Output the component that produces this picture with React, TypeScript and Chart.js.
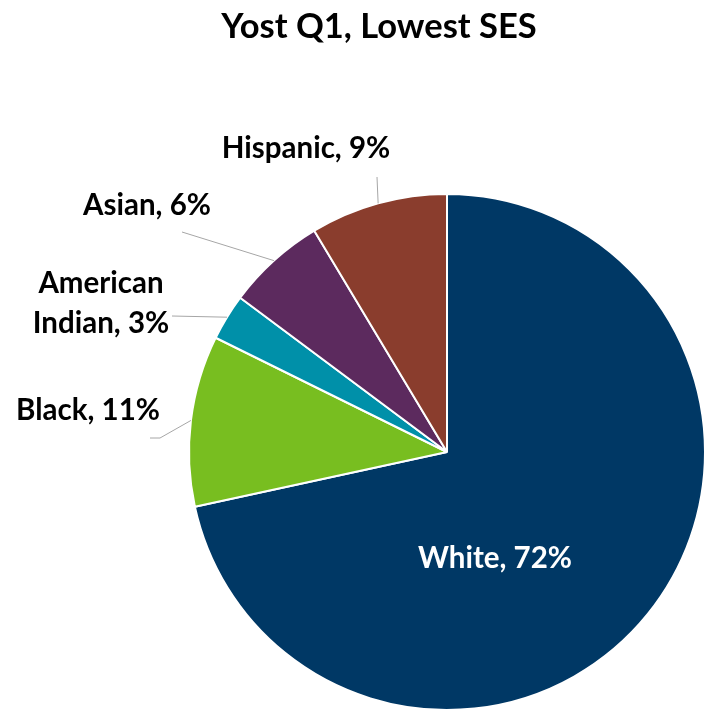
import React, { useEffect, useRef } from "react";
import { Chart, registerables } from "chart.js";

Chart.register(...registerables);

const title = "Yost Q1, Lowest SES";
const categories = ["White", "Black", "American Indian", "Asian", "Hispanic"];
const values = [71.6, 10.7, 2.9, 6.2, 8.6];
const colors = ["#003865", "#78be20", "#0090a9", "#5c2a5e", "#8a3d2d"];

// label placement relative to pie centre (in px), lines = leader elbows
const labelLayout = [
  { lines: ["White, 72%"], text: [48, 106], leader: null as null | number[][], inside: true },
  { lines: ["Black, 11%"], text: [-359, -42], leader: [[-287, -14], [-297, -14]], inside: false },
  { lines: ["American", "Indian, 3%"], text: [-346, -149], leader: [[-275, -136]], inside: false },
  { lines: ["Asian, 6%"], text: [-300, -247], leader: [[-265, -220]], inside: false },
  { lines: ["Hispanic, 9%"], text: [-141, -304], leader: [[-70, -275]], inside: false },
];

const FONT = "Lato, 'Open Sans', sans-serif";

const labelPlugin = {
  id: "customLabels",
  afterDatasetsDraw(chart: any) {
    const ctx = chart.ctx as CanvasRenderingContext2D;
    const meta = chart.getDatasetMeta(0);
    ctx.save();
    // title
    ctx.fillStyle = "#000";
    ctx.font = `bold 34.5px ${FONT}`;
    ctx.textAlign = "center";
    ctx.textBaseline = "alphabetic";
    ctx.fillText(title, 379, 38);

    meta.data.forEach((arc: any, i: number) => {
      const { x, y, startAngle, endAngle, outerRadius } = arc.getProps(
        ["x", "y", "startAngle", "endAngle", "outerRadius"],
        true
      );
      const L = labelLayout[i];
      const mid = (startAngle + endAngle) / 2;
      if (L.leader) {
        ctx.strokeStyle = "#a6a6a6";
        ctx.lineWidth = 1;
        ctx.beginPath();
        ctx.moveTo(x + Math.cos(mid) * outerRadius, y + Math.sin(mid) * outerRadius);
        L.leader.forEach((p) => ctx.lineTo(x + p[0], y + p[1]));
        ctx.stroke();
      }
      ctx.fillStyle = L.inside ? "#fff" : "#000";
      ctx.font = `bold 29.5px ${FONT}`;
      ctx.textAlign = "center";
      ctx.textBaseline = "middle";
      const lh = 40;
      const n = L.lines.length;
      L.lines.forEach((t, k) => {
        ctx.fillText(t, x + L.text[0], y + L.text[1] + (k - (n - 1) / 2) * lh);
      });
    });
    ctx.restore();
  },
};

export default function App() {
  const ref = useRef<HTMLCanvasElement>(null);
  useEffect(() => {
    document.body.style.margin = "0";
    const chart = new Chart(ref.current!, {
      type: "pie",
      data: {
        labels: categories,
        datasets: [
          {
            data: values,
            backgroundColor: colors,
            borderColor: "#ffffff",
            borderWidth: 2,
          },
        ],
      },
      options: {
        responsive: false,
        animation: false,
        layout: { padding: { left: 188, right: 2, top: 193, bottom: 0 } },
        plugins: {
          legend: { display: false },
          tooltip: { enabled: false },
          title: { display: false },
        },
      },
      plugins: [labelPlugin],
    });
    return () => chart.destroy();
  }, []);
  return (
    <div style={{ width: 708, height: 711 }}>
      <canvas ref={ref} width={708} height={711} style={{ display: "block" }} />
    </div>
  );
}
